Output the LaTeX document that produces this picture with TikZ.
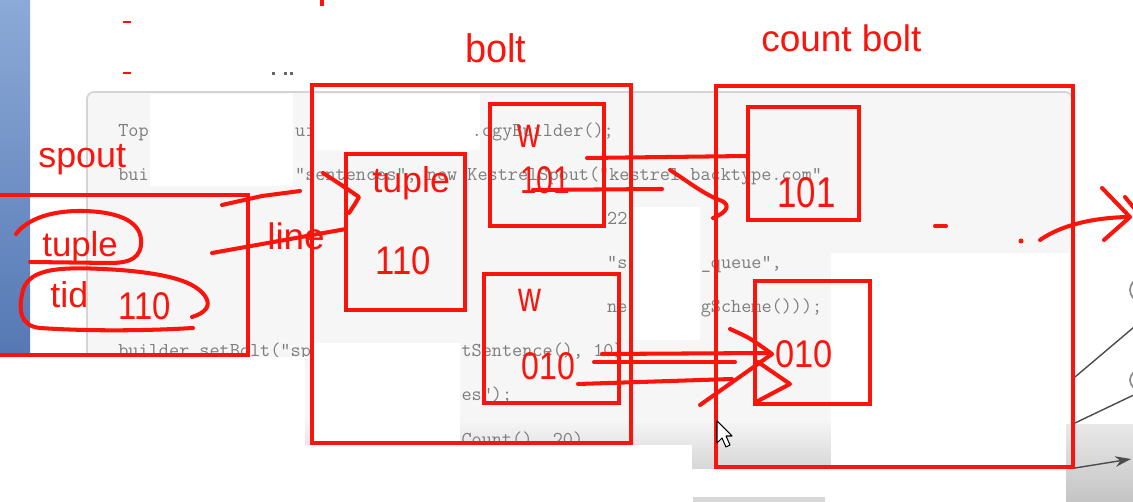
\documentclass[tikz,border=0pt]{standalone}
\usepackage{graphicx}
\usepackage{fontspec}
\newfontfamily\handfont{Liberation Sans}
\usetikzlibrary{arrows.meta}
\definecolor{pen}{RGB}{250,20,12}
\definecolor{codegrey}{RGB}{125,125,125}
\definecolor{panel}{RGB}{246,246,246}
\definecolor{panelline}{RGB}{212,212,212}
\definecolor{panelshade}{RGB}{214,214,214}
\definecolor{bluetop}{RGB}{140,170,215}
\definecolor{bluebot}{RGB}{85,120,180}
\definecolor{rtop}{RGB}{232,232,232}
\definecolor{rbot}{RGB}{196,196,196}
\definecolor{barcol}{RGB}{215,215,215}
\newcommand{\hw}[3]{\scalebox{#2}[1]{\handfont\fontsize{#1}{#1}\selectfont #3}}
\begin{document}
\begin{tikzpicture}[x=0.02cm,y=-0.02cm,
  redbox/.style={draw=pen, line width=2.3pt, inner sep=0pt, outer sep=0pt},
  ink/.style={draw=pen, line width=2.3pt, line cap=round, line join=round},
  lbl/.style={text=pen, inner sep=0pt, anchor=base west},
  code/.style={text=codegrey, inner sep=0pt, anchor=base west, font=\ttfamily\fontsize{11.2}{12}\selectfont},
  patch/.style={fill=white, draw=none},
  greyline/.style={draw=black!70, line width=0.8pt}]
\useasboundingbox (0,0) rectangle (1133,502);
\clip (0,0) rectangle (1133,502);
\fill[white] (0,0) rectangle (1133,502);
% blue side strip
\shade[top color=bluetop, bottom color=bluebot] (0,0) rectangle (30,357);
\fill[bluebot] (0,357) rectangle (2,502);
% code panel
\draw[draw=panelline, fill=panel, line width=1pt, rounded corners=4pt] (87,92) rectangle (1072,470);
\shade[top color=panel, bottom color=panelshade] (88,420) rectangle (1071,469);
% erased patches
\fill[patch] (150,94) rectangle (293,186);
\fill[patch] (316,94) rectangle (480,150);
\fill[patch] (628,207) rectangle (700,340);
\fill[patch] (313,343) rectangle (460,445);
\fill[patch] (831,253) rectangle (1070,468);
% code fragments
\node[code] (l1a) at (118,137) {Top};
\node[code] (l1b) at (294.8,137) {ui};
\node[code] (l1c) at (471.6,137) {.ogyBuilder();};
\node[code] (l2a) at (118,181) {bui};
\node[code] (l2b) at (294.8,181) {"sentences", new KestrelSpout("kestrel.backtype.com",};
\node[code] (l3a) at (606.8,225) {22};
\node[code] (l4a) at (606.8,269) {"s};
\node[code] (l4b) at (700.4,269) {\_queue",};
\node[code] (l5a) at (606.8,313) {ne};
\node[code] (l5b) at (700.4,313) {gScheme()));};
\node[code] (l6a) at (118,357) {builder.setBolt("sp};
\node[code] (l6b) at (461.2,357) {tSentence(), 10)};
\node[code] (l7a) at (461.2,401) {es");};
\node[code] (l8a) at (461.2,446) {Count(), 20)};
% white areas below
\fill[patch] (0,357) rectangle (305,502);
\fill[patch] (2,445) rectangle (692,502);
\fill[patch] (692,469) rectangle (1066,502);
\shade[top color=rtop, bottom color=rbot] (1066,425) rectangle (1133,502);
\fill[barcol] (693,497) rectangle (825,502);
% top marks
\draw[pen, line width=1.4pt] (123,22) -- (131,22);
\draw[pen, line width=1.4pt] (123,73) -- (131,73);
\draw[pen, line width=2pt] (322,0) -- (322,6);
\fill[black!60] (272,72) rectangle (275,75);
\fill[black!60] (284,72) rectangle (287,75);
\fill[black!60] (290,72) rectangle (293,75);
% right side grey figure
\draw[greyline] (1075,377) -- (1140,322);
\draw[greyline] (1075,423) -- (1140,392);
\draw[greyline, -{Stealth[length=9pt,width=6pt]}] (1075,468) -- (1131,459);
\draw[draw=black!45, line width=1pt] (1168,290) ellipse [x radius=38, y radius=20];
\draw[draw=black!45, line width=1pt] (1168,380) ellipse [x radius=38, y radius=18];
% red boxes
\node[redbox, minimum width=5.06cm, minimum height=3.2cm] (spout) at (121.5,275) {};
\node[redbox, minimum width=6.38cm, minimum height=7.16cm] (bolt) at (471.5,264) {};
\node[redbox, minimum width=2.38cm, minimum height=3.12cm] (tuplebox) at (405.5,232) {};
\node[redbox, minimum width=2.28cm, minimum height=2.44cm] (wone) at (547,165) {};
\node[redbox, minimum width=2.7cm, minimum height=2.58cm] (wtwo) at (551.5,338.5) {};
\node[redbox, minimum width=7.14cm, minimum height=7.62cm] (count) at (894.5,276.5) {};
\node[redbox, minimum width=2.22cm, minimum height=2.26cm] (cone) at (803.5,163.5) {};
\node[redbox, minimum width=2.3cm, minimum height=2.46cm] (ctwo) at (812.5,342.5) {};
% red labels
\node[lbl] (spoutlbl) at (38,168) {\hw{20.4}{1}{spout}};
\node[lbl] (boltlbl) at (465,63) {\hw{22.7}{0.95}{bolt}};
\node[lbl] (countlbl) at (761,52) {\hw{21}{1}{count bolt}};
\node[lbl] (tupleA) at (42,257) {\hw{19.8}{1}{tuple}};
\node[lbl] (tid) at (50,308) {\hw{20.4}{1}{tid}};
\node[lbl] (nA) at (118,320) {\hw{22}{0.85}{110}};
\node[lbl] (linelbl) at (267,250) {\hw{21}{1}{line}};
\node[lbl] (tupleB) at (372,193) {\hw{20.4}{1}{tuple}};
\node[lbl] (nB) at (375,275) {\hw{22.7}{0.87}{110}};
\node[lbl] (wA) at (517,148) {\hw{24}{0.75}{w}};
\node[lbl] (nC) at (520,194) {\hw{22}{0.77}{101}};
\node[lbl] (wB) at (518,312) {\hw{24}{0.75}{w}};
\node[lbl] (nD) at (521,380) {\hw{22}{0.83}{010}};
\node[lbl] (nE) at (777,208) {\hw{24.5}{0.81}{101}};
\node[lbl] (nF) at (775,368) {\hw{22}{0.89}{010}};
% ellipses round spout fields
\draw[ink] (16,234) .. controls (25,222) and (45,211) .. (80,211) .. controls (115,211) and (140,220) .. (141,240) .. controls (142,258) and (130,263) .. (110,263) -- (30,262);
\draw[ink] (192,317) .. controls (205,313) and (212,306) .. (205,296) .. controls (195,282) and (170,274) .. (120,270) .. controls (60,266) and (30,268) .. (23,290) .. controls (18,310) and (20,326) .. (40,328) .. controls (100,332) and (160,330) .. (193,328);
% spout -> tuple box
\coordinate (sa1) at (222,205);
\coordinate (sa2) at (300,191);
\draw[ink] (sa1) -- (262,196) -- (sa2);
\draw[ink] (323,173) .. controls (340,184) .. (359,197) .. controls (355,204) .. (349,213);
\coordinate (la1) at (212,253);
\draw[ink] (la1) -- (tuplebox.west |- 0,229);
% w 101 -> count 101
\coordinate (wa1) at (587,158);
\coordinate (wa2) at (533,190);
\coordinate (wa3) at (662,189);
\draw[ink] (wa1) -- (cone.west |- 0,156);
\draw[ink] (wa2) -- (wa3);
\draw[ink] (670,170) .. controls (690,183) and (705,195) .. (722,201) .. controls (730,205) and (728,212) .. (713,218);
% w 010 -> count 010
\coordinate (wb1) at (602,354);
\coordinate (wb2) at (594,362);
\coordinate (wb3) at (578,384);
\draw[ink] (wb1) -- (770,353);
\draw[ink] (wb2) -- (735,362);
\draw[ink] (wb3) -- (732,379);
\draw[ink] (730,329) .. controls (750,338) .. (772,354) -- (700,405);
\draw[ink] (758,362) -- (790,384) -- (756,402);
% outgoing arrow
\draw[ink] (935,226) -- (946,226);
\fill[pen] (1021,241) circle [radius=2.5];
\draw[ink] (1040,240) .. controls (1060,226) and (1090,218) .. (1127,217);
\draw[ink] (1102,188) -- (1130,217) -- (1104,240);
\draw[ink] (1125,197) -- (1134,208);
% mouse pointer
\draw[black, fill=white, line width=0.6pt, line join=round] (717,421) -- (717,443) -- (722,438) -- (726,447) -- (730,445) -- (726,436) -- (732,436) -- cycle;
\end{tikzpicture}
\end{document}
